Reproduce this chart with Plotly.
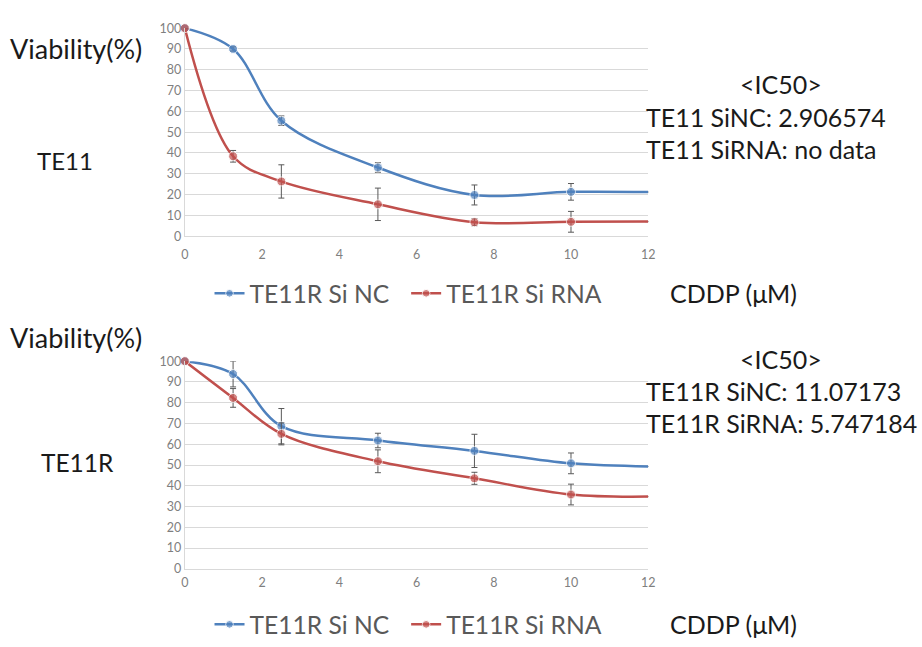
import plotly.graph_objects as go

# ---------------- data ----------------
dose = [0, 1.25, 2.5, 5, 7.5, 10, 12]

te11_nc = [100, 90, 55.5, 33, 19.8, 21.3, 21.2]
te11_nc_err = [0, 1, 2.3, 2.3, 4.8, 4, 0]
te11_rna = [100, 38.4, 26.3, 15.3, 6.7, 6.9, 7.0]
te11_rna_err = [0, 2.8, 8, 7.8, 1.7, 5, 0]

te11r_nc = [100, 93.8, 68.7, 61.8, 56.8, 50.8, 49.3]
te11r_nc_err = [0, 6.2, 8.5, 3.5, 8, 5, 0]
te11r_rna = [100, 82.3, 65, 51.8, 43.6, 35.8, 34.8]
te11r_rna_err = [0, 4.5, 5.3, 5.5, 2.9, 5, 0]

legend_names = ["TE11R Si NC", "TE11R Si RNA"]
x_ticks = [0, 2, 4, 6, 8, 10, 12]
y_ticks = [0, 10, 20, 30, 40, 50, 60, 70, 80, 90, 100]

ic50_top = ["TE11 SiNC: 2.906574", "TE11 SiRNA: no data"]
ic50_bottom = ["TE11R SiNC: 11.07173", "TE11R SiRNA: 5.747184"]

# ---------------- style ----------------
BLUE = "#4F81BD"
RED = "#C0504D"
FONT = "Lato"
W, H = 922, 647

def px_x(p):
    return p / W

def px_y(p):
    return 1 - p / H

marker_sizes = [9, 9, 9, 9, 9, 9, 0]

fig = go.Figure()

def add_series(y, err, color, name, xa, ya, legend):
    fig.add_trace(go.Scatter(
        x=dose, y=y, mode="lines+markers", name=name,
        line=dict(color=color, width=2.5, shape="spline", smoothing=1.0),
        marker=dict(color=color, size=marker_sizes, symbol="circle"),
        error_y=dict(type="data", array=err, visible=True, color="#595959",
                     thickness=1, width=3),
        xaxis=xa, yaxis=ya, legend=legend, showlegend=True,
        cliponaxis=False,
    ))

add_series(te11_nc, te11_nc_err, BLUE, legend_names[0], "x", "y", "legend")
add_series(te11_rna, te11_rna_err, RED, legend_names[1], "x", "y", "legend2")
add_series(te11r_nc, te11r_nc_err, BLUE, legend_names[0], "x2", "y2", "legend3")
add_series(te11r_rna, te11r_rna_err, RED, legend_names[1], "x2", "y2", "legend4")

xd = [px_x(183), px_x(652)]
TICKFONT = dict(family=FONT, size=12.5, color="#7f7f7f")
axis_common_x = dict(range=[0, 12], tickvals=x_ticks, showgrid=False, zeroline=False,
                     showline=True, linecolor="#d9d9d9", linewidth=1,
                     tickfont=TICKFONT, ticks="", fixedrange=True)
axis_common_y = dict(range=[0, 100], tickvals=y_ticks, showgrid=True, gridcolor="#d9d9d9",
                     gridwidth=1, zeroline=False, showline=True, linecolor="#d9d9d9",
                     linewidth=1, tickfont=TICKFONT, ticks="", fixedrange=True)

def leg(x, y):
    return dict(orientation="h", x=px_x(x), y=px_y(y), xanchor="left", yanchor="middle",
                font=dict(family=FONT, size=24.6, color="#595959"), itemwidth=30,
                bgcolor="rgba(0,0,0,0)", borderwidth=0)

fig.update_layout(
    width=W, height=H,
    margin=dict(l=0, r=0, t=0, b=0),
    paper_bgcolor="white", plot_bgcolor="white",
    font=dict(family=FONT, color="#1a1a1a"),
    xaxis=dict(domain=xd, anchor="y", ticklabelstandoff=7, **axis_common_x),
    yaxis=dict(domain=[px_y(234.3), px_y(20.7)], anchor="x", **axis_common_y),
    xaxis2=dict(domain=xd, anchor="y2", ticklabelstandoff=2, **axis_common_x),
    yaxis2=dict(domain=[px_y(576), px_y(362.7)], anchor="x2", **axis_common_y),
    legend=leg(208, 293),
    legend2=leg(407, 293),
    legend3=leg(208, 633),
    legend4=leg(407, 633),
)

ann = []
def text(t, x, y, size=25, xanchor="left"):
    ann.append(dict(text=t, x=px_x(x), y=px_y(y), xref="paper", yref="paper",
                    xanchor=xanchor, yanchor="middle", showarrow=False,
                    font=dict(family=FONT, size=size, color="#1a1a1a")))

text("Viability(%)", 4, 42, size=27)
text("TE11", 62, 157, size=24, xanchor="center")
text("Viability(%)", 4, 338, size=27)
text("TE11R", 74, 467, size=24.5, xanchor="center")
text("CDDP (μM)", 672, 293)
text("CDDP (μM)", 672, 633)
text("&lt;IC50&gt;", 786, 78, xanchor="center")
text(ic50_top[0], 648, 112)
text(ic50_top[1], 648, 145)
text("&lt;IC50&gt;", 786, 360, xanchor="center")
text(ic50_bottom[0], 648, 393)
text(ic50_bottom[1], 648, 426)
fig.update_layout(annotations=ann)

fig.write_html("out.html", config={"displayModeBar": False},
               post_script="document.body.style.margin='0';document.body.style.overflow='hidden';")
